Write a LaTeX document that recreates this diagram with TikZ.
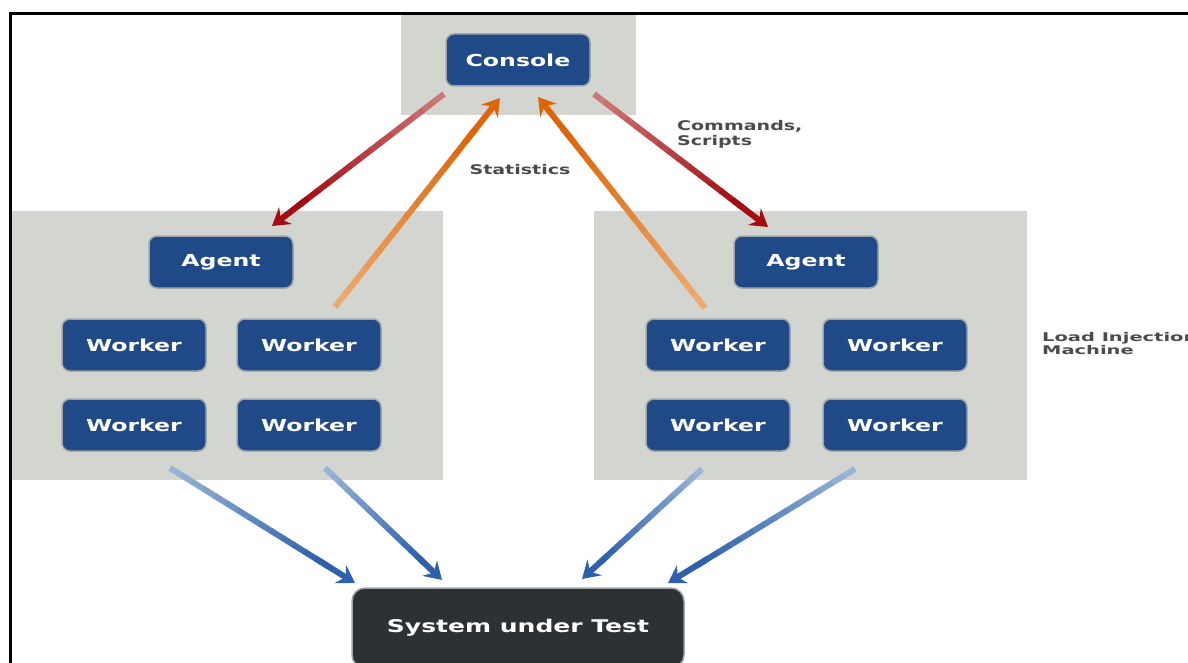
\documentclass[tikz,border=0pt]{standalone}
\usepackage{fontspec}
\setmainfont{DejaVu Sans}
\usepackage{graphicx}
\usetikzlibrary{arrows.meta,calc}
\definecolor{panelgray}{RGB}{211,214,208}
\definecolor{boxblue}{RGB}{31,74,135}
\definecolor{boxedge}{RGB}{160,166,168}
\definecolor{sutdark}{RGB}{46,49,51}
\definecolor{labelgray}{RGB}{75,75,75}
\definecolor{redTail}{RGB}{205,120,120}
\definecolor{redHead}{RGB}{165,12,18}
\definecolor{orTail}{RGB}{236,170,112}
\definecolor{orHead}{RGB}{222,102,8}
\definecolor{blTail}{RGB}{152,180,214}
\definecolor{blHead}{RGB}{46,96,172}
\newcommand{\wt}[1]{\scalebox{1.43}[1]{#1}}
\newcommand{\wtl}[1]{\scalebox{1.62}[1]{#1}}
\newcommand{\gradarrow}[4]{%
  \foreach \i in {0,...,13}{%
    \pgfmathsetmacro{\fa}{0.85*\i/14}%
    \pgfmathsetmacro{\fb}{0.85*(\i+1)/14+0.005}%
    \pgfmathsetmacro{\pc}{100*\i/13}%
    \draw[line width=6pt, color=#4!\pc!#3] ($(#1)!\fa!(#2)$) -- ($(#1)!\fb!(#2)$);
  }%
  \draw[line width=6pt, #4, -{Stealth[length=17pt,width=21pt,inset=6pt]}] ($(#1)!0.8!(#2)$) -- (#2);
}
\begin{document}
\begin{tikzpicture}[x=1pt,y=-1pt,
  panel/.style={fill=panelgray, draw=none, anchor=north west, inner sep=0pt},
  box/.style={fill=boxblue, draw=boxedge, line width=1.5pt, rounded corners=8pt,
    minimum width=144pt, minimum height=52pt, text=white, inner sep=0pt,
    font=\fontsize{16.5}{19}\selectfont\bfseries},
  sutbox/.style={fill=sutdark, draw=boxedge, line width=1.5pt, rounded corners=13pt,
    minimum width=332pt, minimum height=80pt, text=white, inner sep=0pt,
    font=\fontsize{17.5}{20}\selectfont\bfseries},
  lbl/.style={text=labelgray, inner sep=0pt, align=left,
    font=\fontsize{13.3}{15}\selectfont\bfseries}
]
\useasboundingbox (0,0) rectangle (1188,663);
\clip (0,0) rectangle (1188,663);
\fill[white] (0,0) rectangle (1188,663);

% panels
\node[panel, minimum width=235pt, minimum height=101pt] (cpanel) at (401,14) {};
\node[panel, minimum width=431pt, minimum height=269pt] (lpanel) at (12,211) {};
\node[panel, minimum width=433pt, minimum height=269pt] (rpanel) at (594,211) {};

% frame
\draw[line width=3pt, black] (10,670) -- (10,13.5) -- (1195,13.5);

% nodes
\node[box] (console) at (518,60) {\wt{Console}};
\node[box] (lagent) at (221,262) {\wt{Agent}};
\node[box] (lw1) at (134,345) {\wt{Worker}};
\node[box] (lw2) at (309,345) {\wt{Worker}};
\node[box] (lw3) at (134,425) {\wt{Worker}};
\node[box] (lw4) at (309,425) {\wt{Worker}};
\node[box] (ragent) at (806,262) {\wt{Agent}};
\node[box] (rw1) at (718,345) {\wt{Worker}};
\node[box] (rw2) at (895,345) {\wt{Worker}};
\node[box] (rw3) at (718,425) {\wt{Worker}};
\node[box] (rw4) at (895,425) {\wt{Worker}};
\node[sutbox] (sut) at (518,628) {\wt{System under Test}};

% labels
\node[lbl, anchor=center] (stats) at (520,170) {\wt{Statistics}};
\node[lbl, anchor=north west] (cmds) at (677,120) {\wt{Commands,}\\\wt{Scripts}};
\node[lbl, anchor=north west, font=\fontsize{12}{13}\selectfont\bfseries] (lim) at (1042,332) {\wtl{Load Injection}\\\wtl{Machine}};

% connector end points
\coordinate (rl1) at (444,94);
\coordinate (rl2) at (272,226);
\coordinate (rr1) at (594,94);
\coordinate (rr2) at (768,227);
\coordinate (ol1) at (335,307);
\coordinate (ol2) at (500,98);
\coordinate (or1) at (705,308);
\coordinate (or2) at (538,97);
\coordinate (b11) at (170,468);
\coordinate (b12) at (355,583);
\coordinate (b21) at (325,468);
\coordinate (b22) at (442,580);
\coordinate (b31) at (702,469);
\coordinate (b32) at (582,579);
\coordinate (b41) at (855,469);
\coordinate (b42) at (668,583);

% arrows
\gradarrow{rl1}{rl2}{redTail}{redHead}
\gradarrow{rr1}{rr2}{redTail}{redHead}
\gradarrow{ol1}{ol2}{orTail}{orHead}
\gradarrow{or1}{or2}{orTail}{orHead}
\gradarrow{b11}{b12}{blTail}{blHead}
\gradarrow{b21}{b22}{blTail}{blHead}
\gradarrow{b31}{b32}{blTail}{blHead}
\gradarrow{b41}{b42}{blTail}{blHead}
\end{tikzpicture}
\end{document}
